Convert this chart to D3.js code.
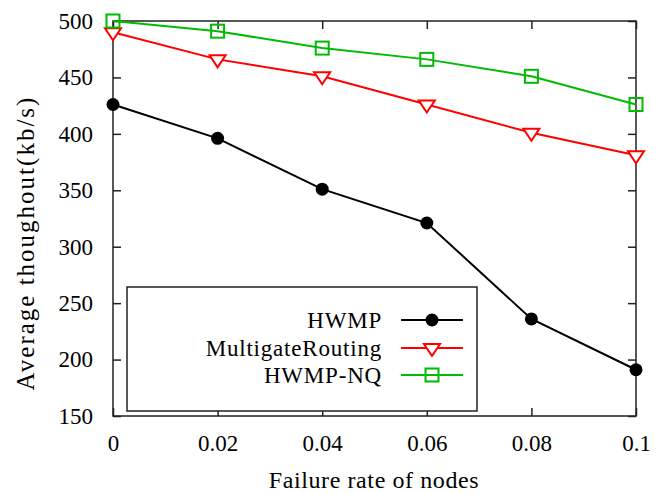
<!DOCTYPE html>
<html><head><meta charset="utf-8">
<script src="https://cdn.jsdelivr.net/npm/d3@7"></script>
<style>body{margin:0;background:#fff}svg{display:block}text{font-family:"Liberation Serif","Times New Roman",serif;fill:#000}</style>
</head><body>
<script>
const xValues = [0, 0.02, 0.04, 0.06, 0.08, 0.1];
const xTickLabels = ["0", "0.02", "0.04", "0.06", "0.08", "0.1"];
const yTicks = [150, 200, 250, 300, 350, 400, 450, 500];
const hwmp = [426, 396, 351, 321, 236, 191];
const multigate = [490, 466, 451, 426, 401, 381];
const hwmpNQ = [500, 491, 476, 466, 451, 426];
const seriesNames = ["HWMP", "MultigateRouting", "HWMP-NQ"];
const seriesColors = ["#000000", "#ff0000", "#00bb00"];
const seriesMarkers = ["circle", "triangle", "square"];

const W = 657, H = 494;
const m = {left: 113, right: 636, top: 21, bottom: 416};
const svg = d3.select("body").append("svg").attr("width", W).attr("height", H);
const x = d3.scaleLinear().domain([0, 0.1]).range([m.left, m.right]);
const y = d3.scaleLinear().domain([150, 500]).range([m.bottom, m.top]);

svg.append("rect").attr("x", m.left).attr("y", m.top).attr("width", m.right - m.left).attr("height", m.bottom - m.top)
  .attr("fill", "none").attr("stroke", "#222").attr("stroke-width", 1.5);

const xb = svg.append("g").attr("transform", `translate(0,${m.bottom})`)
  .call(d3.axisBottom(x).tickValues(xValues).tickSize(-8).tickPadding(19).tickFormat((d,i)=>xTickLabels[i]));
const xt = svg.append("g").attr("transform", `translate(0,${m.top})`)
  .call(d3.axisTop(x).tickValues(xValues).tickSize(-8).tickFormat(""));
const yl = svg.append("g").attr("transform", `translate(${m.left},0)`)
  .call(d3.axisLeft(y).tickValues(yTicks).tickSize(-8).tickPadding(20));
const yr = svg.append("g").attr("transform", `translate(${m.right},0)`)
  .call(d3.axisRight(y).tickValues(yTicks).tickSize(-8).tickFormat(""));
[xb, xt, yl, yr].forEach(g => {
  g.select(".domain").remove();
  g.selectAll(".tick line").attr("stroke", "#222").attr("stroke-width", 1.5);
  g.selectAll("text").style("font-size", "23px").style("font-family", '"Liberation Serif",serif').attr("fill", "#000");
});

svg.append("text").attr("x", 374).attr("y", 488).attr("text-anchor", "middle")
  .style("font-size", "24px").style("letter-spacing", "0.6px").text("Failure rate of nodes");
svg.append("text").attr("transform", `translate(34,243) rotate(-90)`).attr("text-anchor", "middle")
  .style("font-size", "25px").style("letter-spacing", "2px").text("Average thoughout(kb/s)");

function drawMarker(g, type, cx, cy, color) {
  if (type === "circle") {
    g.append("circle").attr("cx", cx).attr("cy", cy).attr("r", 6.5).attr("fill", color);
  } else if (type === "triangle") {
    g.append("path").attr("d", `M${cx - 8},${cy - 4}L${cx + 8},${cy - 4}L${cx},${cy + 8}Z`)
      .attr("fill", "#fff").attr("stroke", color).attr("stroke-width", 2);
  } else {
    const s = 6.5;
    g.append("rect").attr("x", cx - s).attr("y", cy - s).attr("width", 2 * s).attr("height", 2 * s)
      .attr("fill", "none").attr("stroke", color).attr("stroke-width", 2);
  }
}

const lg = svg.append("g");
lg.append("rect").attr("x", 127).attr("y", 287).attr("width", 350).attr("height", 124)
  .attr("fill", "#fff").attr("stroke", "#222").attr("stroke-width", 1.5);

const allSeries = [hwmp, multigate, hwmpNQ];
const line = d3.line().x((d, i) => x(xValues[i])).y(d => y(d));
const legendY = [320, 348, 375];
allSeries.forEach((vals, k) => {
  const g = svg.append("g");
  g.append("path").datum(vals).attr("d", line).attr("fill", "none").attr("stroke", seriesColors[k]).attr("stroke-width", 2);
  vals.forEach((v, i) => drawMarker(g, seriesMarkers[k], x(xValues[i]), y(v), seriesColors[k]));
});
seriesNames.forEach((name, k) => {
  const ly = legendY[k];
  lg.append("text").attr("x", 382).attr("y", ly).attr("dy", "0.35em").attr("text-anchor", "end")
    .style("font-size", "23px").style("letter-spacing", "0.8px").text(name);
  lg.append("line").attr("x1", 401).attr("x2", 463).attr("y1", ly).attr("y2", ly)
    .attr("stroke", seriesColors[k]).attr("stroke-width", 2);
  drawMarker(lg, seriesMarkers[k], 432, ly, seriesColors[k]);
});
</script>
</body></html>
